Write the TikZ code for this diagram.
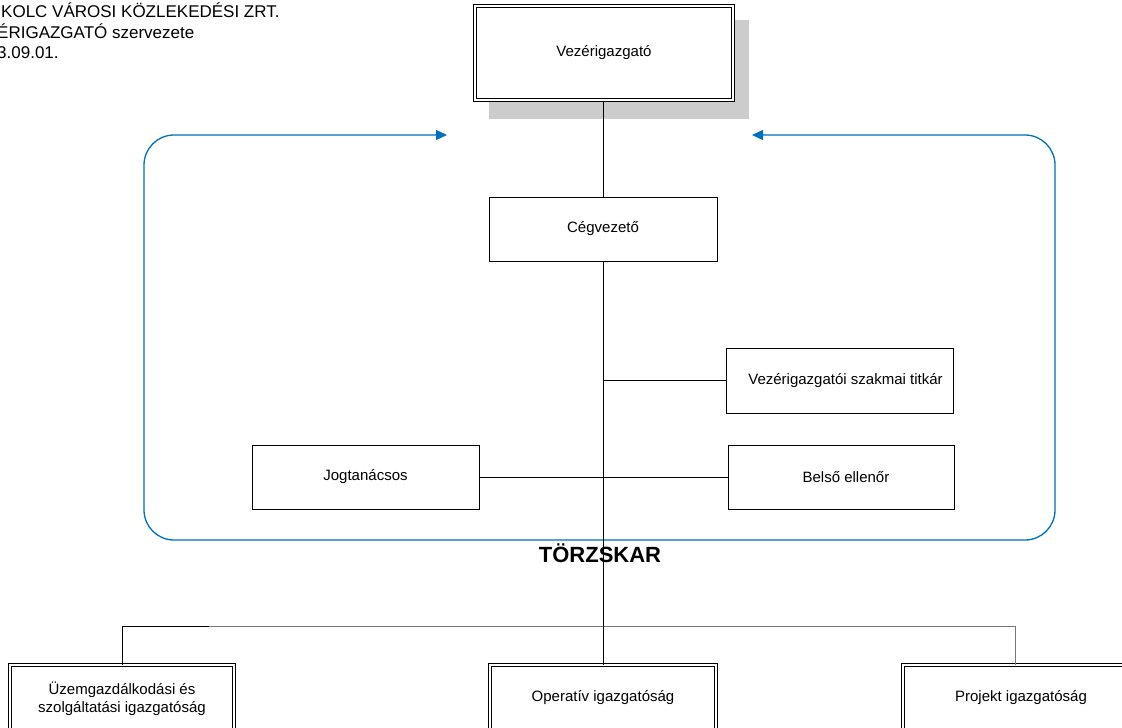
\documentclass[tikz,border=0pt]{standalone}
\usepackage{fontspec}
\setmainfont{Liberation Sans}
\usetikzlibrary{arrows.meta}
\definecolor{msblue}{HTML}{0070C0}
\definecolor{shadowgray}{HTML}{CCCCCC}
\definecolor{busgray}{HTML}{777777}
\tikzset{
  boxtext/.style={font=\fontsize{15}{18}\selectfont, align=center, inner sep=0pt},
  plainbox/.style={boxtext, draw=black, line width=0.9pt, fill=white},
  dblbox/.style={boxtext, draw=black, line width=1pt, double=white, double distance=2pt, fill=white},
  conn/.style={draw=black, line width=0.9pt},
  blueline/.style={draw=msblue, line width=1.3pt, rounded corners=30pt, {Triangle[length=11pt,width=10pt]}-{Triangle[length=11pt,width=10pt]}},
  hdr/.style={font=\fontsize{17}{20}\selectfont, anchor=base west, inner sep=0pt}
}
\begin{document}
\begin{tikzpicture}[x=1pt,y=-1pt]
\useasboundingbox (0,0) rectangle (1122,728);
\clip (0,0) rectangle (1122,728);
\fill[white] (0,0) rectangle (1122,728);

% header text
\node[hdr] (h1) at (1,17.3) {KOLC VÁROSI KÖZLEKEDÉSI ZRT.};
\node[hdr] (h2) at (-3,38.3) {ÉRIGAZGATÓ szervezete};
\node[hdr] (h3) at (-3,58.3) {3.09.01.};

% shadow and top box
\fill[shadowgray] (489,20) rectangle (749,119);
\node[dblbox, minimum width=258pt, minimum height=94pt] (vez) at (604,53) {Vezérigazgató};

% blue staff frame
\coordinate (tl) at (447,135);
\coordinate (tr) at (752,135);
\coordinate (cl) at (144,540);
\coordinate (cr) at (1055,135);
\draw[blueline] (tl) -| (cl) -| (cr) -- (tr);

% staff boxes
\node[plainbox, minimum width=228pt, minimum height=64pt] (ceg) at (603,229) {Cégvezető};
\node[plainbox, minimum width=227pt, minimum height=65pt] (titkar) at (839.5,380.5) {\hspace*{12pt}Vezérigazgatói szakmai titkár};
\node[plainbox, minimum width=227pt, minimum height=64pt] (jog) at (365.5,477) {Jogtanácsos};
\node[plainbox, minimum width=226pt, minimum height=64pt] (belso) at (841,477) {\hspace*{10pt}Belső ellenőr};

\node[font=\fontsize{22}{26}\selectfont\bfseries, anchor=base, inner sep=0pt] (torzs) at (600,562) {TÖRZSKAR};

% bottom directorates
\node[dblbox, minimum width=224pt, minimum height=68pt] (uzem) at (122,699) {Üzemgazdálkodási és\\szolgáltatási igazgatóság};
\node[dblbox, minimum width=226pt, minimum height=66pt] (op) at (603,698) {Operatív igazgatóság};
\node[dblbox, minimum width=236pt, minimum height=66pt] (proj) at (1021,698) {Projekt igazgatóság};

% connectors
\draw[conn] (ceg.north |- vez.south) -- (ceg.north);
\draw[conn] (ceg.south) -- (op.north);
\draw[conn] (ceg.south |- titkar.west) -- (titkar.west);
\draw[conn] (jog.east) -- (belso.west);
\coordinate (busL) at (209,626);
\coordinate (projtop) at ([xshift=-6pt]proj.north);
\draw[conn] (uzem.north) |- (busL);
\draw[conn, draw=busgray] (busL) -| (projtop);
\draw[conn] (ceg.south |- busL) -- (op.north);
\end{tikzpicture}
\end{document}
